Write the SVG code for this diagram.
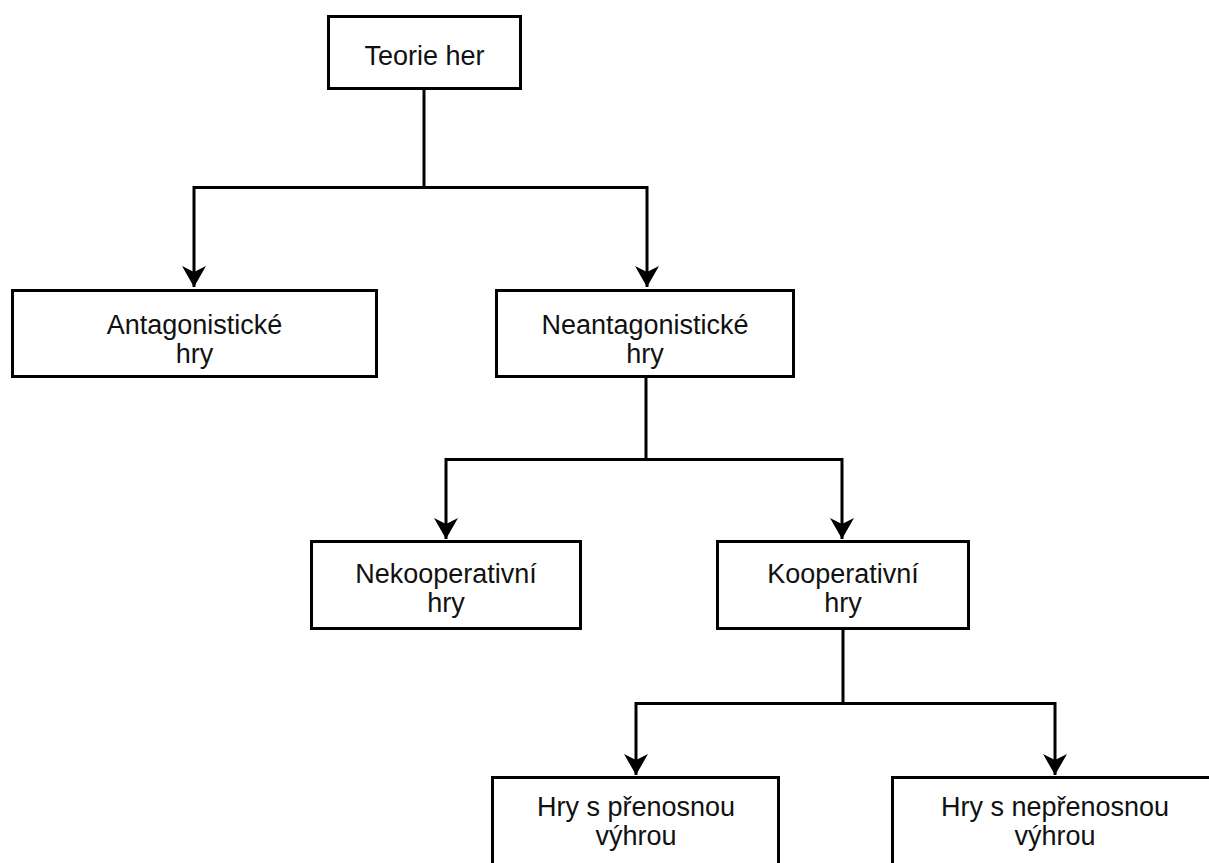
<svg xmlns="http://www.w3.org/2000/svg" width="1209" height="863" viewBox="0 0 1209 863">
<style>
.box{fill:#fff;stroke:#000;stroke-width:3}
.lbl{font-family:"Liberation Sans",Arial,sans-serif;font-size:27px;fill:#111;text-anchor:middle}
.con{fill:none;stroke:#000;stroke-width:3;stroke-linejoin:miter}
</style>
<defs>
<marker id="arr" markerUnits="userSpaceOnUse" viewBox="-22 -13 23 26" refX="0" refY="0" markerWidth="23" markerHeight="26" orient="auto">
<path d="M0,0 L-21,-12 L-15,0 L-21,12 Z" fill="#000"/>
</marker>
</defs>
<rect width="1209" height="863" fill="#fff"/>
<g id="connectors">
<path class="con" d="M424,90 V187.5 H194 V287" marker-end="url(#arr)"/>
<path class="con" d="M424,187.5 H647 V287" marker-end="url(#arr)"/>
<path class="con" d="M646,378 V459.5 H446 V539" marker-end="url(#arr)"/>
<path class="con" d="M646,459.5 H842 V539" marker-end="url(#arr)"/>
<path class="con" d="M843,630 V703.5 H636 V775" marker-end="url(#arr)"/>
<path class="con" d="M843,703.5 H1055 V775" marker-end="url(#arr)"/>
</g>
<g id="n-teorie">
<rect class="box" x="328.5" y="16.5" width="192" height="72"/>
<text class="lbl" x="424.5" y="65">Teorie her</text>
</g>
<g id="n-antag">
<rect class="box" x="12.5" y="290.5" width="364" height="86"/>
<text class="lbl" x="194.5" y="334">Antagonistické</text>
<text class="lbl" x="194.5" y="363">hry</text>
</g>
<g id="n-neantag">
<rect class="box" x="496.5" y="290.5" width="297" height="86"/>
<text class="lbl" x="645" y="334">Neantagonistické</text>
<text class="lbl" x="645" y="363">hry</text>
</g>
<g id="n-nekoop">
<rect class="box" x="311.5" y="541.5" width="269" height="87"/>
<text class="lbl" x="446" y="583">Nekooperativní</text>
<text class="lbl" x="446" y="612">hry</text>
</g>
<g id="n-koop">
<rect class="box" x="717.5" y="541.5" width="251" height="87"/>
<text class="lbl" x="843" y="583">Kooperativní</text>
<text class="lbl" x="843" y="612">hry</text>
</g>
<g id="n-prenos">
<rect class="box" x="492.5" y="777.5" width="286" height="120"/>
<text class="lbl" x="636" y="816">Hry s přenosnou</text>
<text class="lbl" x="636" y="845">výhrou</text>
</g>
<g id="n-neprenos">
<rect class="box" x="892.5" y="777.5" width="340" height="120"/>
<text class="lbl" x="1055" y="816">Hry s nepřenosnou</text>
<text class="lbl" x="1055" y="845">výhrou</text>
</g>
</svg>
